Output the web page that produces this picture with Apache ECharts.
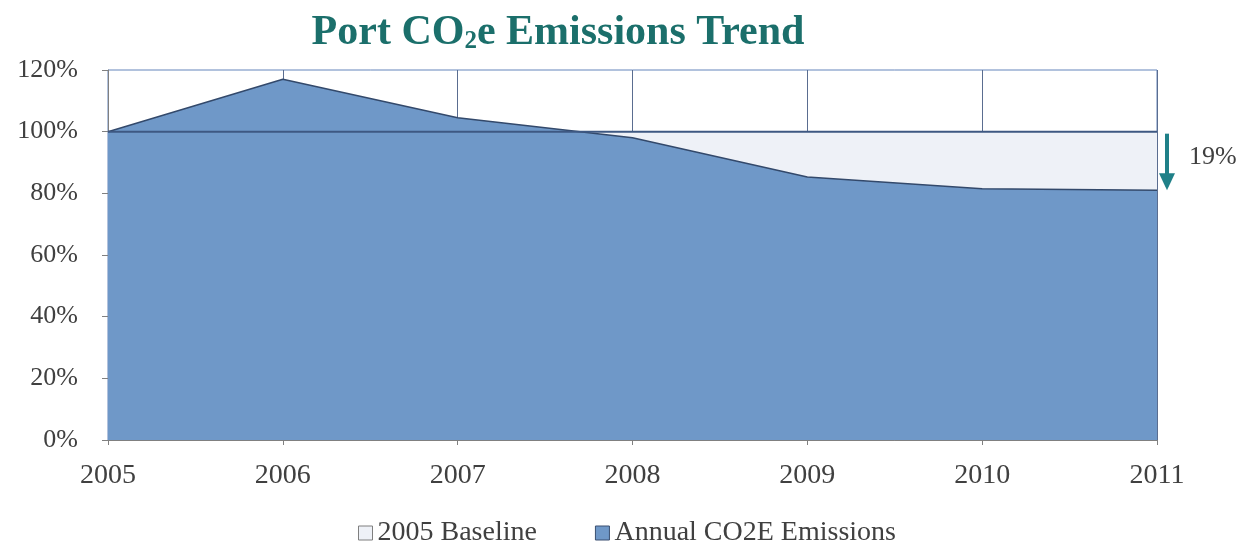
<!DOCTYPE html>
<html>
<head>
<meta charset="utf-8">
<script src="https://cdn.jsdelivr.net/npm/echarts@6/dist/echarts.min.js"></script>
<style>html,body{margin:0;padding:0;background:#fff;}#c{width:1254px;height:552px;}</style>
</head>
<body>
<div id="c"></div>
<script>
const years = ['2005', '2006', '2007', '2008', '2009', '2010', '2011'];
const baseline = [100, 100, 100, 100, 100, 100, 100];
const emissions = [100, 117, 104.5, 98, 85.3, 81.5, 81];
const yTicks = [0, 20, 40, 60, 80, 100, 120];
const reductionLabel = '19%';

const serif = '"Liberation Serif", "DejaVu Serif", serif';
const chart = echarts.init(document.getElementById('c'));
chart.setOption({
  animation: false,
  backgroundColor: '#ffffff',
  title: {
    text: 'Port CO{sub|2}e Emissions Trend',
    left: 553, top: 7, textAlign: 'center',
    textStyle: {
      fontFamily: serif, fontWeight: 'bold', fontSize: 42, color: '#1b6f6b',
      rich: { sub: { fontFamily: serif, fontWeight: 'bold', fontSize: 25, color: '#1b6f6b', padding: [17, 0, 0, 0] } }
    }
  },
  grid: { left: 108, right: 97, top: 70, bottom: 112, show: true, borderColor: '#6585bb', borderWidth: 1, backgroundColor: 'transparent' },
  legend: {
    bottom: 0, left: 'center', itemWidth: 14, itemHeight: 14, itemGap: 58,
    textStyle: { fontFamily: serif, fontSize: 28, color: '#404040' },
    data: [
      { name: '2005 Baseline', icon: 'rect', itemStyle: { color: '#eef1f7', borderColor: '#7f7f7f', borderWidth: 1 } },
      { name: 'Annual CO2E Emissions', icon: 'rect', itemStyle: { color: '#6f98c8', borderColor: '#3a4f70', borderWidth: 1 } }
    ]
  },
  xAxis: {
    type: 'category', data: years, boundaryGap: false,
    axisLine: { lineStyle: { color: '#808080' } },
    axisTick: { show: true, length: 5, lineStyle: { color: '#808080' } },
    axisLabel: { fontFamily: serif, fontSize: 28, color: '#404040', margin: 22 },
    splitLine: { show: true, lineStyle: { color: '#5a6d90', width: 1 } }
  },
  yAxis: {
    type: 'value', min: yTicks[0], max: yTicks[yTicks.length - 1], interval: 20,
    axisLine: { show: true, lineStyle: { color: '#808080' } },
    axisTick: { show: true, length: 6, lineStyle: { color: '#808080' } },
    axisLabel: { fontFamily: serif, fontSize: 26, color: '#404040', margin: 30, formatter: '{value}%' },
    splitLine: { show: false }
  },
  series: [
    { name: '2005 Baseline', type: 'line', data: baseline, symbol: 'none', z: 1,
      lineStyle: { width: 0 }, areaStyle: { color: '#eef1f7', opacity: 1 }, itemStyle: { color: '#eef1f7' } },
    { name: 'Annual CO2E Emissions', type: 'line', data: emissions, symbol: 'none', z: 2,
      lineStyle: { color: '#33496b', width: 1.5 }, areaStyle: { color: '#6f98c8', opacity: 1 }, itemStyle: { color: '#6f98c8' } },
    { name: 'baselineEdge', type: 'line', data: baseline, symbol: 'none', z: 3,
      lineStyle: { color: '#3e5882', width: 2 } }
  ]
});

const p1 = chart.convertToPixel({ xAxisIndex: 0, yAxisIndex: 0 }, [years.length - 1, baseline[baseline.length - 1]]);
const p2 = chart.convertToPixel({ xAxisIndex: 0, yAxisIndex: 0 }, [years.length - 1, emissions[emissions.length - 1]]);
const ax = p1[0] + 10;
chart.setOption({
  graphic: [
    { type: 'line', shape: { x1: ax, y1: p1[1] + 2, x2: ax, y2: p2[1] - 4 }, style: { stroke: '#1f8088', lineWidth: 4 } },
    { type: 'polygon', shape: { points: [[ax - 8, p2[1] - 17], [ax + 8, p2[1] - 17], [ax, p2[1]]] }, style: { fill: '#1f8088' } },
    { type: 'text', x: p1[0] + 32, y: (p1[1] + p2[1]) / 2 - 4, style: { text: reductionLabel, font: '26px ' + serif, fill: '#404040', textVerticalAlign: 'middle' } }
  ]
});
</script>
</body>
</html>
